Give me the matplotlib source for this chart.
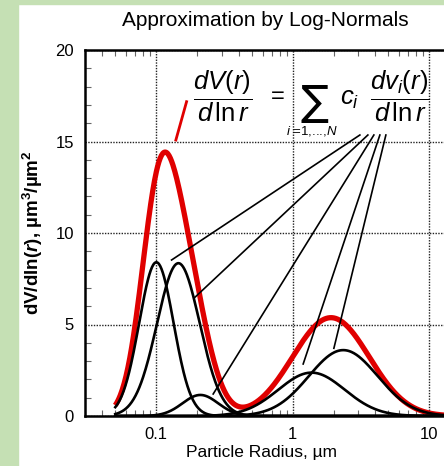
import numpy as np
import matplotlib
matplotlib.use("Agg")
import matplotlib.pyplot as plt
from matplotlib.patches import Rectangle

plt.rcParams['font.family'] = ['Liberation Sans', 'DejaVu Sans']
plt.rcParams['mathtext.fontset'] = 'custom'
plt.rcParams['mathtext.rm'] = 'Liberation Sans'
plt.rcParams['mathtext.it'] = 'Liberation Sans:italic'
plt.rcParams['mathtext.bf'] = 'Liberation Sans:italic:bold'
plt.rcParams['mathtext.sf'] = 'Liberation Sans:bold'

# ---- data ----
mode_radius = [0.100, 0.145, 0.21, 1.37, 2.34]     # mode radius, um
mode_peak = [8.4, 8.35, 1.15, 2.37, 3.6]            # peak dV/dlnr
mode_sigma = [0.29, 0.36, 0.30, 0.56, 0.58]         # width in ln r
coef = [1.0, 1.0, 1.0, 1.0, 1.0]                    # c_i
r_range = [0.05, 30.0]
x_ticks = [0.1, 1, 10]
x_ticklabels = ['0.1', '1', '10']
y_ticks = [0, 5, 10, 15, 20]

title = 'Approximation by Log-Normals'
xlabel = 'Particle Radius, µm'
ylabel = r'dV/dln($\mathbf{r}$), µm$^{\mathsf{3}}$/µm$^{\mathsf{2}}$'

W, H = 444, 466
fig = plt.figure(figsize=(W / 100, H / 100), dpi=100)
fig.patch.set_facecolor('white')
green = '#c5e0b4'
fig.patches.append(Rectangle((0, 0), 18 / W, 1, transform=fig.transFigure, color=green, zorder=-10))
fig.patches.append(Rectangle((0, 1 - 4 / H), 1, 4 / H, transform=fig.transFigure, color=green, zorder=-10))

ax_left, ax_bottom = 85 / W, 50 / H
ax_w, ax_h = 409.5 / W, 366 / H
ax = fig.add_axes([ax_left, ax_bottom, ax_w, ax_h])
ax.set_xscale('log')
ax.set_xlim(0.03, 30)
ax.set_ylim(0, 20)

r = np.logspace(np.log10(r_range[0]), np.log10(r_range[1]), 600)
total = np.zeros_like(r)
comps = []
for rm, a, s, c in zip(mode_radius, mode_peak, mode_sigma, coef):
    v = c * a * np.exp(-(np.log(r) - np.log(rm)) ** 2 / (2 * s ** 2))
    comps.append(v)
    total += v

ax.plot(r, total, color='#e00000', lw=3.8, zorder=3, solid_capstyle='butt')
for v in comps:
    ax.plot(r, v, color='black', lw=1.9, zorder=4)

# grid & ticks
ax.grid(True, which='major', color='#222222', linestyle=(0, (1, 1)), lw=1.0)
ax.set_xticks(x_ticks)
ax.set_xticklabels(x_ticklabels)
ax.set_yticks(y_ticks)
ax.yaxis.set_minor_locator(matplotlib.ticker.MultipleLocator(1))
ax.tick_params(which='both', direction='in', top=True, right=True, labelsize=12, pad=8)
ax.tick_params(which='major', length=0)
ax.tick_params(which='minor', length=4, width=0.8, color='#666666')
ax.tick_params(axis='x', which='minor', labelbottom=False)
for sp in ax.spines.values():
    sp.set_linewidth(1.8)

# annotation lines
def px2data(px, py):
    return 10 ** ((px - 293) / 136.5), (416 - py) / 18.3

starts = [(360, 135), (368, 135), (374, 135), (380, 135), (386, 135)]
ends = [(171.7, 260), (194.3, 298), (213.3, 394), (303.3, 364), (334, 348.3)]
for s, e in zip(starts, ends):
    x0, y0 = px2data(*s)
    x1, y1 = px2data(*e)
    ax.plot([x0, x1], [y0, y1], color='black', lw=1.2, zorder=5, clip_on=False)
x0, y0 = px2data(176, 140)
x1, y1 = px2data(186.7, 101.7)
ax.plot([x0, x1], [y0, y1], color='#e00000', lw=2.0, zorder=5, clip_on=False)

# formula
def ft(px, py, s, **kw):
    fig.text(px / W, 1 - py / H, s, **kw)

ft(223, 96, r'$\dfrac{dV(r)}{d\,\ln r}$', fontsize=18.5, ha='center', va='center')
ft(278, 97, '=', fontsize=17, ha='center', va='center')
ft(314, 103, '∑', fontsize=30, ha='center', va='center', family='DejaVu Sans')
ft(312, 131, r'$i$ =1,...,$N$', fontsize=9.5, ha='center', va='center')
ft(350, 99, r'$c_i$', fontsize=18.5, ha='center', va='center')
ft(400, 96, r'$\dfrac{dv_i(r)}{d\,\ln r}$', fontsize=18.5, ha='center', va='center')

ft(265.5, 21, title, fontsize=15, ha='center', va='center')
ft(262, 453, xlabel, fontsize=12.5, ha='center', va='center')
fig.text(33 / W, 1 - 233 / H, ylabel, fontsize=13.5, fontweight='bold', rotation=90,
         ha='center', va='center')

fig.savefig('out.png', dpi=100, facecolor=fig.get_facecolor())
